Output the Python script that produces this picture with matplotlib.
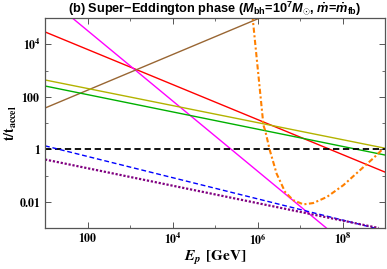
import numpy as np
import matplotlib
matplotlib.use('Agg')
import matplotlib.pyplot as plt
from matplotlib.ticker import FixedLocator, NullFormatter

plt.rcParams['mathtext.fontset'] = 'stix'
plt.rcParams['mathtext.rm'] = 'Liberation Sans:bold'
plt.rcParams['mathtext.bf'] = 'Liberation Sans:bold'
plt.rcParams['mathtext.it'] = 'Liberation Sans:bold:italic'
plt.rcParams['mathtext.bfit'] = 'Liberation Sans:bold:italic'

# log10 of E_p [GeV] and log10 of t/t_accel
red_x = [1.0, 9.0]
red_y = [4.47, -0.87]
magenta_x = [1.0, 7.62]
magenta_y = [5.86, -3.0]
brown_x = [1.0, 6.2]
brown_y = [1.57, 5.1]
olive_x = [1.0, 9.0]
olive_y = [2.64, 0.04]
green_x = [1.0, 9.0]
green_y = [2.41, -0.22]
blue_x = [1.0, 8.75]
blue_y = [0.13, -3.0]
purple_x = [1.0, 8.85]
purple_y = [-0.39, -3.0]
flat_x = [1.0, 9.0]
flat_y = [0.0, 0.0]
orange_x = [5.88, 6.14, 6.18, 6.29, 6.45, 6.65, 6.84, 7.08, 7.31, 7.63, 8.02, 8.41, 8.72, 8.96]
orange_y = [5.1, 0.91, 0.72, -0.04, -0.93, -1.63, -1.94, -2.10, -2.05, -1.82, -1.37, -0.80, -0.35, 0.03]

xticks = [1e2, 1e4, 1e6, 1e8]
xlabels = [r'$\mathbf{100}$', r'$\mathbf{10^{4}}$', r'$\mathbf{10^{6}}$', r'$\mathbf{10^{8}}$']
yticks = [1e-2, 1, 1e2, 1e4]
ylabels = [r'$\mathbf{0.01}$', r'$\mathbf{1}$', r'$\mathbf{100}$', r'$\mathbf{10^{4}}$']

fig = plt.figure(figsize=(3.87, 2.69), dpi=100)
ax = fig.add_axes([45/387, 1-228/269, 340/387, 210/269])

def p(xs, ys):
    return 10**np.array(xs), 10**np.array(ys)

lw = 1.0
ax.plot(*p(red_x, red_y), color='#ff0000', lw=lw)
ax.plot(*p(magenta_x, magenta_y), color='#ff00ff', lw=lw)
ax.plot(*p(brown_x, brown_y), color='#996633', lw=lw)
ax.plot(*p(olive_x, olive_y), color='#b3b300', lw=lw)
ax.plot(*p(green_x, green_y), color='#00b000', lw=lw)
ax.plot(*p(flat_x, flat_y), color='black', lw=1.3, dashes=(3.5, 2.0))
ax.plot(*p(blue_x, blue_y), color='#0000ff', lw=lw, dashes=(3.5, 2.0))
ax.plot(*p(purple_x, purple_y), color='#800080', lw=1.6, dashes=(1.0, 0.8))
ax.plot(*p(orange_x, orange_y), color='#ff8000', lw=1.5, dashes=(2.5, 1.2, 1.0, 1.2))

ax.set_xscale('log')
ax.set_yscale('log')
ax.set_xlim(10, 1e9)
ax.set_ylim(1e-3, 1e5)

ax.xaxis.set_major_locator(FixedLocator(xticks))
ax.set_xticklabels(xlabels)
ax.xaxis.set_minor_locator(FixedLocator([10, 1e3, 1e5, 1e7, 1e9]))
ax.xaxis.set_minor_formatter(NullFormatter())
ax.yaxis.set_major_locator(FixedLocator(yticks))
ax.set_yticklabels(ylabels)
ax.yaxis.set_minor_locator(FixedLocator([1e-3, 1e-1, 10, 1e3, 1e5]))
ax.yaxis.set_minor_formatter(NullFormatter())

for t in ax.get_xticklabels() + ax.get_yticklabels():
    t.set_math_fontfamily('stix')
    t.set_fontsize(8.5)

ax.tick_params(which='both', direction='in', top=True, right=True, color='#555555', pad=3)
ax.tick_params(which='major', length=4, width=0.7)
ax.tick_params(which='minor', length=2.2, width=0.6)
for s in ax.spines.values():
    s.set_color('#555555')
    s.set_linewidth(0.9)

ax.set_title(r'(b) Super$-$Eddington phase ($\mathbfit{M}_{\mathbf{bh}}$=10$^{\mathbf{7}}$$\mathbfit{M}_{\odot}$, '
             r'$\dot{\mathbfit{m}}$=$\dot{\mathbfit{m}}_{\mathbf{fb}}$)',
             fontsize=9.2, fontweight='bold', family='Liberation Sans', pad=3, math_fontfamily='custom')

xl = ax.set_xlabel(r'$\mathbfit{E_p}$ $\mathbf{[GeV]}$', fontsize=11, labelpad=1)
xl.set_math_fontfamily('stix')
yl = ax.set_ylabel(r'$\mathbf{t/t_{accel}}$', fontsize=10, labelpad=0)
yl.set_math_fontfamily('stix')

fig.savefig('out.png', dpi=100)
